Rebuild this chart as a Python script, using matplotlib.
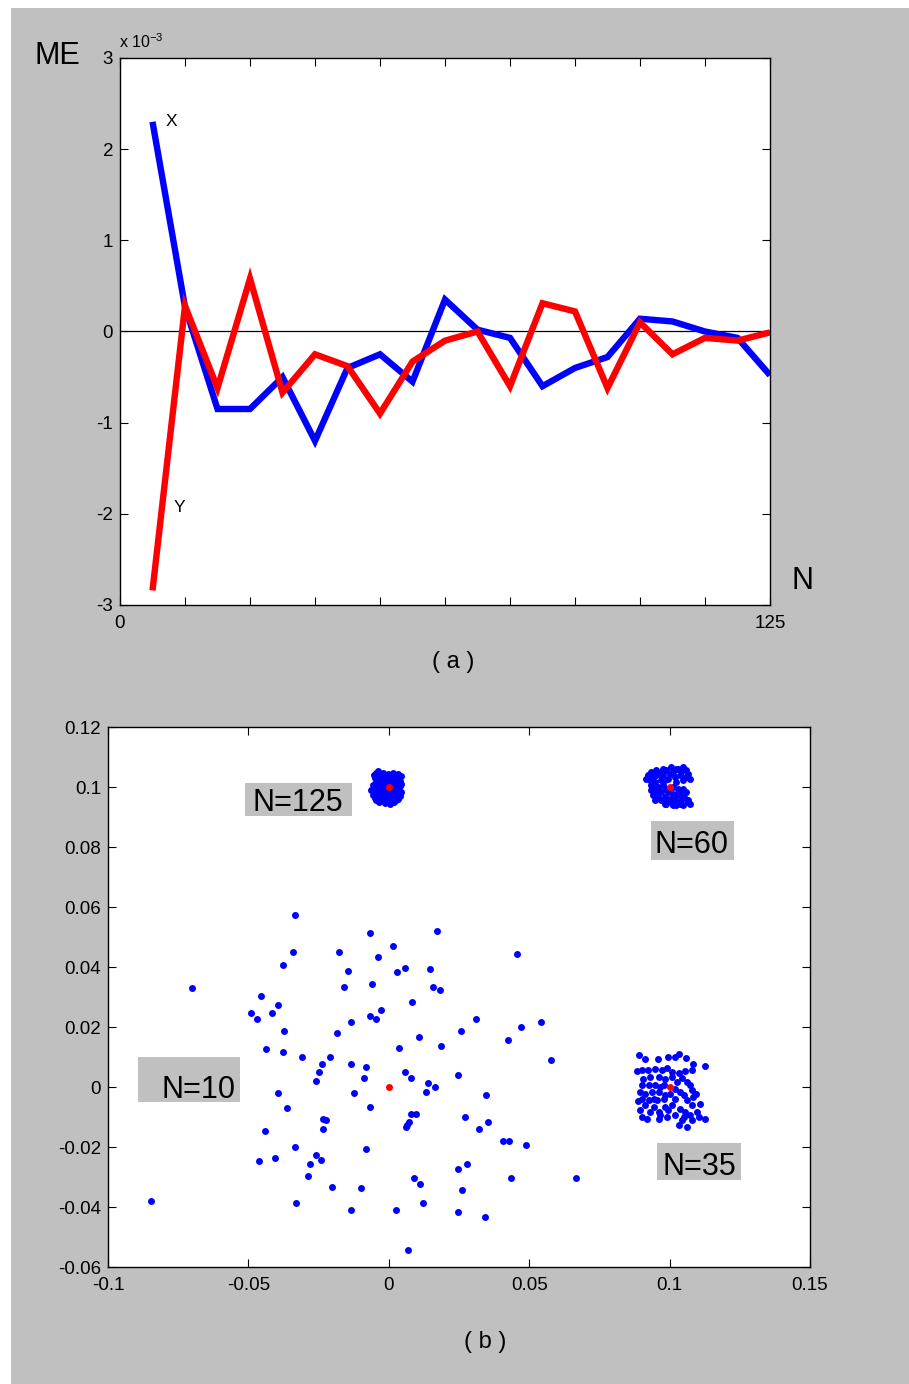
import matplotlib
matplotlib.use("Agg")
import matplotlib.pyplot as plt
from matplotlib.patches import Rectangle

plt.rcParams['font.family'] = ['Liberation Sans', 'DejaVu Sans']
plt.rcParams['axes.unicode_minus'] = False

W, H = 909, 1384
GRAY = '#c0c0c0'

# ---------------- panel (a): mean error versus N ----------------
N_steps = [6.25, 12.5, 18.75, 25, 31.25, 37.5, 43.75, 50, 56.25, 62.5,
           68.75, 75, 81.25, 87.5, 93.75, 100, 106.25, 112.5, 118.75, 125]
# mean error, units of 1e-3
me_x = [2.30, 0.27, -0.85, -0.85, -0.50, -1.20, -0.40, -0.25, -0.55, 0.35,
        0.02, -0.07, -0.60, -0.40, -0.28, 0.14, 0.11, 0.00, -0.07, -0.48]
me_y = [-2.84, 0.28, -0.62, 0.58, -0.67, -0.25, -0.38, -0.90, -0.33, -0.10,
        0.00, -0.60, 0.31, 0.22, -0.62, 0.10, -0.25, -0.07, -0.10, -0.01]
a_xticks = [0, 12.5, 25, 37.5, 50, 62.5, 75, 87.5, 100, 112.5, 125]
a_xticklabels = ['0', '', '', '', '', '', '', '', '', '', '125']
a_yticks = [-3, -2, -1, 0, 1, 2, 3]
a_yticklabels = ['-3', '-2', '-1', '0', '1', '2', '3']

# ---------------- panel (b): position estimates ----------------
# true positions for each N
true_x = [0.0, 0.1, 0.1, 0.0]
true_y = [0.0, 0.0, 0.1, 0.1]

# estimation errors (units of 1e-3) for N=10
err10_x = [-33.4, -6.7, 17.0, 1.4, -34.0, -17.9, -3.8, 45.5, -37.8, -14.6,
           3.0, 5.8, 14.8, -15.8, -6.1, 15.9, 18.1, -45.4, -39.5, 8.4,
           -49.2, -41.6, -46.9, -2.8, -6.7, -4.4, 30.9, -13.6, 54.1, -37.2,
           -18.6, 25.7, 47.2, 10.6, 42.3, 18.7, -43.7, -37.8, 3.6, -30.8,
           -21.1, 57.9, -23.8, -13.6, -8.2, -25.0, 5.8, 24.5, -25.9, -8.8,
           7.9, 13.8, -39.5, -12.5, 13.2, 16.6, 34.7, -36.1, -6.7, 7.8,
           9.6, 27.3, -23.3, -22.2, 7.3, 6.6, 6.1, 35.4, -44.2, -23.3,
           32.2, 40.6, 42.9, 48.9, -33.4, -8.2, -46.3, -40.4, -25.9, -24.3,
           -28.1, 27.7, 24.5, -28.8, 9.1, 43.4, 66.5, 11.1, -20.1, -9.9,
           26.2, -32.9, 12.3, -13.6, 2.6, 24.5, 34.3, 6.8, -70.1, -84.7]
err10_y = [57.4, 51.4, 52.0, 46.9, 44.9, 44.9, 43.3, 44.3, 40.8, 38.8,
           38.2, 39.8, 39.3, 33.2, 34.2, 33.2, 32.2, 30.2, 27.2, 28.2,
           24.7, 24.7, 22.7, 25.7, 23.7, 22.7, 22.7, 21.7, 21.7, 18.6,
           18.1, 18.7, 20.1, 16.7, 15.6, 13.7, 12.6, 11.6, 13.1, 10.0,
           10.0, 9.0, 7.6, 7.6, 6.6, 5.0, 5.0, 4.0, 2.0, 3.0,
           3.0, 1.4, -2.0, -2.0, -1.6, 0.0, -2.6, -7.1, -6.7, -9.1,
           -9.1, -10.1, -10.7, -11.1, -11.7, -12.7, -13.2, -11.6, -14.7, -14.1,
           -14.1, -18.1, -18.1, -19.2, -20.1, -20.7, -24.8, -23.7, -22.7, -24.2,
           -25.7, -25.7, -27.2, -29.7, -30.2, -30.2, -30.2, -32.2, -33.2, -33.7,
           -34.2, -38.8, -38.8, -40.9, -40.9, -41.8, -43.3, -54.3, 33.0, -38.0]

# N=35
err35_x = [-11.0, -8.7, -4.3, -0.6, 2.0, 3.2, 5.8, 8.5, 12.5, -11.6,
           -9.9, -7.7, -5.1, -2.7, -0.9, 0.8, 3.2, 5.6, 8.0, -9.3,
           -6.9, -3.9, -1.5, 0.8, 4.4, 7.4, -9.9, -7.5, -5.1, -3.3,
           2.0, 3.8, 8.0, -10.4, -8.7, -6.3, -3.9, -1.5, 0.2, 5.0,
           8.5, -9.9, -7.5, -4.5, -2.1, 2.0, 6.2, -8.7, -5.7, -1.5,
           0.8, 3.8, 8.0, 10.9, -10.4, -6.9, -3.9, -0.4, 5.6, 9.7,
           -9.9, -3.3, -0.9, 2.0, 5.0, 7.4, 10.3, 12.7, -8.1, -3.9,
           4.4, 8.0, 3.2, 6.2, -2.1, 6.2, 2.6, -5.7, -11.2, 9.5]
err35_y = [10.6, 9.2, 9.4, 10.0, 10.0, 11.1, 9.7, 7.8, 7.0, 5.2,
           5.6, 5.6, 6.1, 5.6, 6.3, 5.0, 4.8, 5.2, 5.6, 2.8,
           3.3, 3.3, 2.8, 3.3, 3.0, 0.6, 0.6, 0.8, 0.6, 0.0,
           -0.6, -1.7, -1.1, -1.7, -2.2, -1.7, -1.7, -2.8, -2.2, -2.8,
           -3.3, -3.9, -4.4, -4.4, -3.9, -3.9, -4.4, -6.1, -6.7, -6.7,
           -6.1, -7.2, -6.1, -5.6, -7.8, -8.3, -8.3, -7.8, -8.3, -8.3,
           -10.0, -9.4, -10.0, -9.4, -10.0, -9.4, -10.0, -10.6, -10.6, -10.6,
           -11.1, -11.1, -12.8, -13.3, 0.6, 1.7, 1.7, -3.9, -4.8, -2.2]

# N=60
err60_x = [-8.3, -6.5, -4.7, -3.0, -1.2, 1.2, 3.0, 4.7, 5.9, 6.5,
           3.6, 1.8, -0.6, -3.0, -5.3, -6.5, -4.2, -2.4, 2.4, 4.7,
           1.2, 3.0, -3.0, -0.6, 1.2, -5.9, -4.2, -1.8, 3.6, 5.3,
           6.5, -5.3, -3.0, 0.0, 1.8, 4.2, -1.2, 1.2, 3.6, 6.5,
           -7.7, -5.9, -4.7, -2.4, 0.0, 4.2, 5.9, 7.1, -5.3, -3.6,
           -1.2, 4.7, 5.9, -6.5, -4.7, 3.6, -0.6, 0.6, 2.4, -1.8,
           4.7, 7.1, 2.4, 0.6, -2.4, -4.2, -7.1, -1.8, -4.2, 2.4]
err60_y = [2.8, 5.0, 5.6, 5.0, 5.6, 5.0, 6.1, 6.7, 5.6, 4.4,
           3.9, 3.3, 2.8, 2.2, 1.7, 0.6, 0.0, 0.6, 1.7, 2.2,
           0.0, -0.6, -1.7, -1.7, -2.2, -2.8, -3.3, -3.3, -2.8, -3.3,
           -4.4, -4.4, -4.4, -3.9, -4.4, -4.4, -5.6, -6.1, -5.6, -5.0,
           3.9, 3.3, 3.9, 3.9, 4.4, 5.0, 3.3, 2.8, -0.6, -1.1,
           -0.6, -0.6, -1.7, -1.1, -1.7, -1.1, -4.4, -5.0, -6.1, -5.6,
           -6.1, -5.6, 6.1, 6.7, 6.1, 4.4, 2.2, 2.2, -2.2, -2.8]

# N=125
err125_x = [-4.4, -3.2, -2.0, -0.2, 1.5, 3.3, -5.0, -3.2, -1.4, 0.9,
            2.7, 3.9, -5.6, -3.8, -2.0, -0.2, 2.1, 3.9, -5.0, -3.2,
            -1.4, 0.9, 2.7, 4.3, -5.6, -3.8, -2.0, 0.4, 2.1, 3.9,
            -4.4, -2.6, -0.8, 0.9, 2.7, -1.4, 0.4, -3.8, 4.5, -6.2,
            -5.2, -1.0, 0.3, 1.8, 3.6, -4.6, -2.8, -0.8, 1.3, 3.0,
            -5.3, -4.2, -2.3, -0.9, 1.4, 2.9, 4.4, -4.6, -2.6, -0.4,
            1.6, 3.5, -5.0, -3.1, -1.2, 1.3, 3.3, -3.5, -0.3, 2.0]
err125_y = [4.7, 4.1, 4.7, 4.4, 4.7, 4.4, 3.0, 2.4, 3.0, 2.7,
            3.0, 1.9, 0.8, 0.8, 1.3, 1.3, 1.1, 0.2, -0.9, -0.9,
            -1.4, -0.7, -1.1, -1.8, -2.6, -2.9, -2.6, -2.6, -3.1, -3.1,
            -4.2, -4.4, -4.2, -4.8, -4.2, -5.3, -5.6, 5.2, 3.6, -1.1,
            4.0, 3.8, 3.5, 3.6, 2.6, 1.8, 1.9, 2.1, 1.9, 1.5,
            0.0, -0.2, 0.1, 0.4, 0.2, -0.3, 0.9, -1.8, -1.9, -1.6,
            -1.8, -2.2, -3.5, -3.6, -3.3, -3.8, -4.0, -5.0, -4.6, -4.9]

b_xticks = [-0.1, -0.05, 0, 0.05, 0.1, 0.15]
b_xticklabels = ['-0.1', '-0.05', '0', '0.05', '0.1', '0.15']
b_yticks = [-0.06, -0.04, -0.02, 0, 0.02, 0.04, 0.06, 0.08, 0.1, 0.12]
b_yticklabels = ['-0.06', '-0.04', '-0.02', '0', '0.02', '0.04', '0.06',
                 '0.08', '0.1', '0.12']
labels_b = ['N=125', 'N=60', 'N=10', 'N=35']


def fx(px):
    return px / W


def fy(py):
    return 1 - py / H


fig = plt.figure(figsize=(W / 100, H / 100), dpi=100, facecolor='white')
fig.patches.append(Rectangle((fx(11), 0), 1 - fx(11), fy(8), transform=fig.transFigure,
                             facecolor=GRAY, edgecolor='none', zorder=-10))

TICK_FS = 13.5


def style_axes(ax, xpad, ypad):
    ax.set_facecolor('white')
    ax.tick_params(direction='in', length=6, width=0.8, top=True, right=True,
                   labelsize=TICK_FS, colors='black')
    ax.tick_params(axis='x', pad=xpad)
    ax.tick_params(axis='y', pad=ypad)
    for s in ax.spines.values():
        s.set_linewidth(1.0)
        s.set_color('black')


# panel (a)
ax1 = fig.add_axes([fx(120), fy(605), (770 - 120) / W, (605 - 58) / H])
ax1.axhline(0, color='black', lw=0.9, zorder=1)
ax1.plot(N_steps, me_x, color='#0000ff', lw=4.6, solid_joinstyle='miter',
         solid_capstyle='butt', zorder=2)
ax1.plot(N_steps, me_y, color='#ff0000', lw=4.6, solid_joinstyle='miter',
         solid_capstyle='butt', zorder=3)
ax1.set_xlim(0, 125)
ax1.set_ylim(-3, 3)
ax1.set_xticks(a_xticks)
ax1.set_xticklabels(a_xticklabels)
ax1.set_yticks(a_yticks)
ax1.set_yticklabels(a_yticklabels)
style_axes(ax1, 7, 5)
ax1.text(N_steps[0] + 2.5, me_x[0], 'X', fontsize=12.5, va='center', ha='left')
ax1.text(N_steps[0] + 4.0, -1.93, 'Y', fontsize=12.5, va='center', ha='left')

fig.text(fx(57), fy(64), 'ME', fontsize=22, ha='center', va='baseline')
fig.text(fx(802), fy(589), 'N', fontsize=22, ha='center', va='baseline')
fig.text(fx(119), fy(48), r'x 10$^{\mathregular{-3}}$', fontsize=11.5, ha='left', va='baseline')
fig.text(fx(453), fy(662), '( a )', fontsize=17, ha='center', va='center')

# panel (b)
ax2 = fig.add_axes([fx(108), fy(1267), (810 - 108) / W, (1267 - 727) / H])
clusters = [(err10_x, err10_y, 0), (err35_x, err35_y, 1),
            (err60_x, err60_y, 2), (err125_x, err125_y, 3)]
for ex, ey, k in clusters:
    xs = [true_x[k] + v * 1e-3 for v in ex]
    ys = [true_y[k] + v * 1e-3 for v in ey]
    ax2.scatter(xs, ys, s=25, color='#0000ff', linewidths=0, zorder=2)
ax2.scatter(true_x, true_y, s=25, color='#ff0000', linewidths=0, zorder=3)
ax2.set_xlim(-0.1, 0.15)
ax2.set_ylim(-0.06, 0.12)
ax2.set_xticks(b_xticks)
ax2.set_xticklabels(b_xticklabels)
ax2.set_yticks(b_yticks)
ax2.set_yticklabels(b_yticklabels)
style_axes(ax2, 7, 5)

# label boxes: (x0, x1, y0, y1) in data units, text anchor (x, baseline y)
boxes = [(-0.0512, -0.0131, 0.0903, 0.1013), (0.0934, 0.1229, 0.0757, 0.0887),
         (-0.0893, -0.0530, -0.0050, 0.0100), (0.0955, 0.1254, -0.0310, -0.0187)]
anchors = [(-0.0325, 0.0920), (0.1078, 0.0780), (-0.0676, -0.0037), (0.1107, -0.0293)]
for (x0, x1, y0, y1), (tx, ty), lab in zip(boxes, anchors, labels_b):
    ax2.add_patch(Rectangle((x0, y0), x1 - x0, y1 - y0, facecolor=GRAY,
                            edgecolor='none', zorder=4))
    ax2.text(tx, ty, lab, fontsize=22, ha='center', va='baseline', zorder=5)

fig.text(fx(485), fy(1342), '( b )', fontsize=17, ha='center', va='center')

fig.savefig('out.png', dpi=100, facecolor=fig.get_facecolor())
